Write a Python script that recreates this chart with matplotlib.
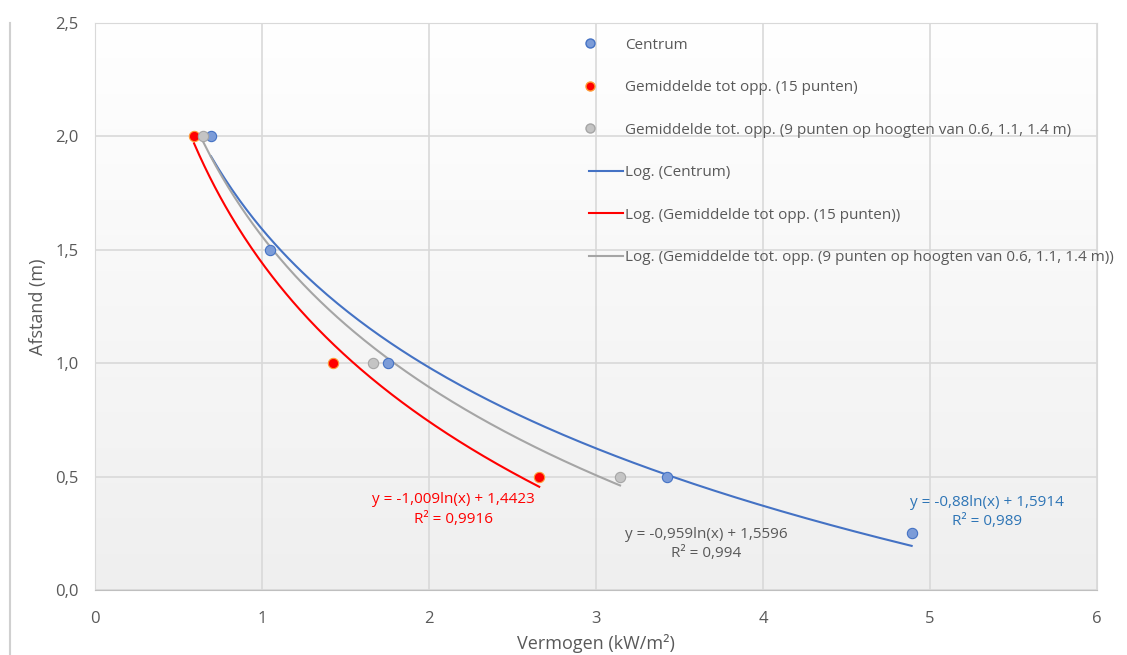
import numpy as np
import matplotlib
matplotlib.use("Agg")
import matplotlib.pyplot as plt
from matplotlib.lines import Line2D
from matplotlib.legend_handler import HandlerLine2D

plt.rcParams['font.family'] = ['Open Sans', 'DejaVu Sans']

# data (vermogen kW/m2 vs afstand m)
centrum_x = [0.695, 1.048, 1.754, 3.425, 4.89]
centrum_y = [2.0, 1.5, 1.0, 0.5, 0.25]
gem15_x = [0.593, 1.425, 2.66]
gem15_y = [2.0, 1.0, 0.5]
gem9_x = [0.647, 1.665, 3.144]
gem9_y = [2.0, 1.0, 0.5]

# log trendline coefficients (a*ln(x) + b)
fit_centrum = (-0.88, 1.5914)
fit_gem15 = (-1.009, 1.4423)
fit_gem9 = (-0.959, 1.5596)

x_ticks = [0, 1, 2, 3, 4, 5, 6]
y_ticks = [0.0, 0.5, 1.0, 1.5, 2.0, 2.5]

BLUE = '#4472C4'
RED = '#FF0000'
GRAY = '#A5A5A5'
TXT = '#595959'


class LeftMarker(HandlerLine2D):
    # Excel style: marker sits at the left of the legend handle
    def get_xdata(self, legend, xdescent, ydescent, width, height, fontsize):
        x0 = -xdescent + 1.0
        return np.array([x0, x0]), np.array([x0])


fig = plt.figure(figsize=(11.27, 6.55), dpi=100)
ax = fig.add_axes([0.0843, 0.0992, 0.8891, 0.8657])

# background gradient (white top -> light grey bottom)
grad = np.linspace(0.0, 1.0, 256).reshape(-1, 1)
cmap = matplotlib.colors.LinearSegmentedColormap.from_list('bg', ['#EFEFEF', '#FFFFFF'])
ax.imshow(grad, extent=[0, 6, 0, 2.5], aspect='auto', cmap=cmap, origin='lower', zorder=0)

ax.set_xlim(0, 6)
ax.set_ylim(0, 2.5)
ax.set_xticks(x_ticks)
ax.set_yticks(y_ticks)
ax.set_xticklabels([str(t) for t in x_ticks])
ax.set_yticklabels([f'{t:.1f}'.replace('.', ',') for t in y_ticks])
ax.grid(True, color='#D9D9D9', linewidth=1.2, zorder=1)
ax.set_axisbelow(True)
ax.tick_params(axis='y', length=0, labelsize=12, colors=TXT, pad=12)
ax.tick_params(axis='x', length=0, labelsize=12, colors=TXT, pad=15)
for side in ['top', 'right', 'left']:
    ax.spines[side].set_color('#D9D9D9')
ax.spines['bottom'].set_color('#BFBFBF')

ax.set_xlabel('Vermogen (kW/m²)', fontsize=13, color=TXT, labelpad=5)
ax.set_ylabel('Afstand (m)', fontsize=13, color=TXT, labelpad=6)


def trend(xs, coef):
    xx = np.linspace(min(xs), max(xs), 200)
    return xx, coef[0] * np.log(xx) + coef[1]


for xs, coef, col in [(centrum_x, fit_centrum, BLUE),
                      (gem15_x, fit_gem15, RED),
                      (gem9_x, fit_gem9, GRAY)]:
    xx, yy = trend(xs, coef)
    ax.plot(xx, yy, color=col, linewidth=1.5, zorder=3)

ax.scatter(centrum_x, centrum_y, s=55, color='#7C9CD8', edgecolors=BLUE, linewidths=0.8, zorder=4)
ax.scatter(gem15_x, gem15_y, s=55, color=RED, edgecolors='#FF9933', linewidths=0.8, zorder=4)
ax.scatter(gem9_x, gem9_y, s=55, color='#C4C4C4', edgecolors=GRAY, linewidths=0.8, zorder=4)

# trendline equations
ax.text(2.144, 0.353, 'y = -1,009ln(x) + 1,4423\nR² = 0,9916', color=RED,
        fontsize=11, ha='center', va='center', linespacing=1.45)
ax.text(3.66, 0.203, 'y = -0,959ln(x) + 1,5596\nR² = 0,994', color=TXT,
        fontsize=11, ha='center', va='center', linespacing=1.45)
ax.text(5.34, 0.344, 'y = -0,88ln(x) + 1,5914\nR² = 0,989', color='#2E75B6',
        fontsize=11, ha='center', va='center', linespacing=1.45)

handles = [
    Line2D([], [], linestyle='none', marker='o', markersize=6.5, markerfacecolor='#7C9CD8', markeredgecolor=BLUE),
    Line2D([], [], linestyle='none', marker='o', markersize=6.5, markerfacecolor=RED, markeredgecolor='#FF9933'),
    Line2D([], [], linestyle='none', marker='o', markersize=6.5, markerfacecolor='#C4C4C4', markeredgecolor=GRAY),
    Line2D([], [], color=BLUE, linewidth=1.5),
    Line2D([], [], color=RED, linewidth=1.5),
    Line2D([], [], color=GRAY, linewidth=1.5),
]
labels = [
    'Centrum',
    'Gemiddelde tot opp. (15 punten)',
    'Gemiddelde tot. opp. (9 punten op hoogten van 0.6, 1.1, 1.4 m)',
    'Log. (Centrum)',
    'Log. (Gemiddelde tot opp. (15 punten))',
    'Log. (Gemiddelde tot. opp. (9 punten op hoogten van 0.6, 1.1, 1.4 m))',
]
hmap = {h: LeftMarker(numpoints=1) for h in handles[:3]}
leg = ax.legend(handles, labels, loc='upper left', bbox_to_anchor=(0.487, 0.985),
                frameon=False, fontsize=11, labelspacing=1.8, handlelength=2.2,
                handletextpad=0.15, borderaxespad=0, handler_map=hmap)
for t in leg.get_texts():
    t.set_color(TXT)

# page border line on the left
fig.add_artist(Line2D([0.009, 0.009], [0.0, 0.965], transform=fig.transFigure,
                      color='#D0D0D0', linewidth=1.5))

fig.savefig('out.png', dpi=100)
